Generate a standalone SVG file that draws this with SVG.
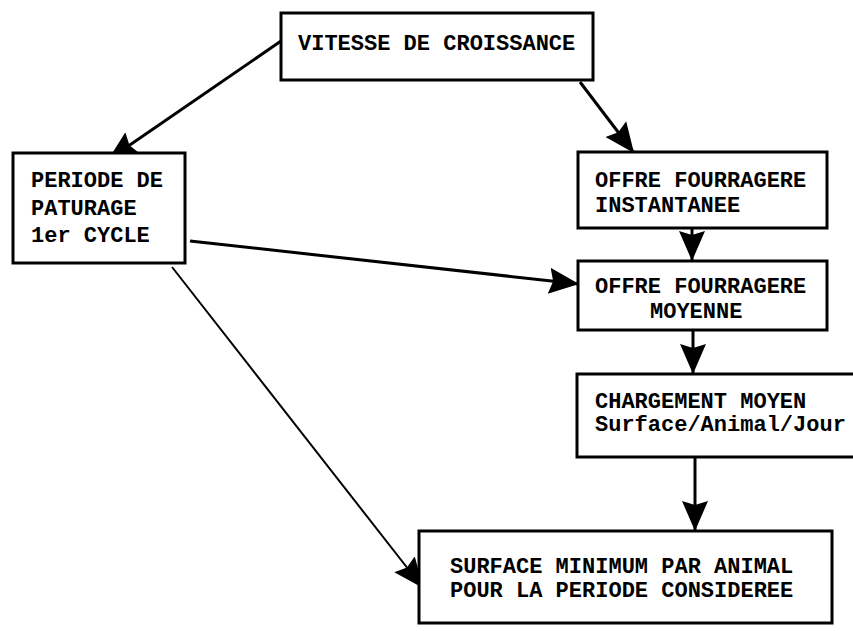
<svg xmlns="http://www.w3.org/2000/svg" width="853" height="631" viewBox="0 0 853 631">
<defs>
<style>
.box{fill:#fff;stroke:#000;stroke-width:3}
.t{font-family:"Liberation Mono","Courier New",monospace;font-size:22px;font-weight:bold;fill:#000}
.c{stroke:#000;stroke-width:3;fill:none}
.thin{stroke:#000;stroke-width:2;fill:none}
</style>
<marker id="ah" markerUnits="userSpaceOnUse" markerWidth="32" markerHeight="32" viewBox="0 0 32 32" refX="30" refY="16" orient="auto">
<path d="M0,3 L30,16 L0,29 L4,16 Z" fill="#000"/>
</marker>
</defs>
<rect width="853" height="631" fill="#fff"/>
<g id="connectors">
<line class="c" x1="281" y1="41" x2="108" y2="160" marker-end="url(#ah)"/>
<line class="c" x1="580" y1="82" x2="634" y2="153" marker-end="url(#ah)"/>
<line class="c" x1="692" y1="228" x2="692" y2="261" marker-end="url(#ah)"/>
<line class="c" x1="190" y1="241" x2="579" y2="284" marker-end="url(#ah)"/>
<line class="c" x1="693" y1="330" x2="693" y2="374" marker-end="url(#ah)"/>
<line class="c" x1="695" y1="457" x2="695" y2="531" marker-end="url(#ah)"/>
<line class="thin" x1="172" y1="267" x2="423" y2="588" marker-end="url(#ah)"/>
</g>
<g id="n-vitesse">
<rect class="box" x="281" y="13" width="312" height="67"/>
<text class="t" x="298" y="50">VITESSE DE CROISSANCE</text>
</g>
<g id="n-periode">
<rect class="box" x="13" y="153" width="172" height="110"/>
<text class="t" x="31" y="187">PERIODE DE</text>
<text class="t" x="31" y="215">PATURAGE</text>
<text class="t" x="31" y="242">1er CYCLE</text>
</g>
<g id="n-offre-inst">
<rect class="box" x="578" y="152" width="249" height="76"/>
<text class="t" x="595" y="187">OFFRE FOURRAGERE</text>
<text class="t" x="595" y="212">INSTANTANEE</text>
</g>
<g id="n-offre-moy">
<rect class="box" x="578" y="261" width="249" height="69"/>
<text class="t" x="595" y="293">OFFRE FOURRAGERE</text>
<text class="t" x="650" y="318">MOYENNE</text>
</g>
<g id="n-chargement">
<rect class="box" x="577" y="374" width="280" height="83"/>
<text class="t" x="595" y="408">CHARGEMENT MOYEN</text>
<text class="t" x="595" y="431">Surface/Animal/Jour</text>
</g>
<g id="n-surface">
<rect class="box" x="419" y="531" width="413" height="92"/>
<text class="t" x="450" y="573">SURFACE MINIMUM PAR ANIMAL</text>
<text class="t" x="450" y="597">POUR LA PERIODE CONSIDEREE</text>
</g>
</svg>
